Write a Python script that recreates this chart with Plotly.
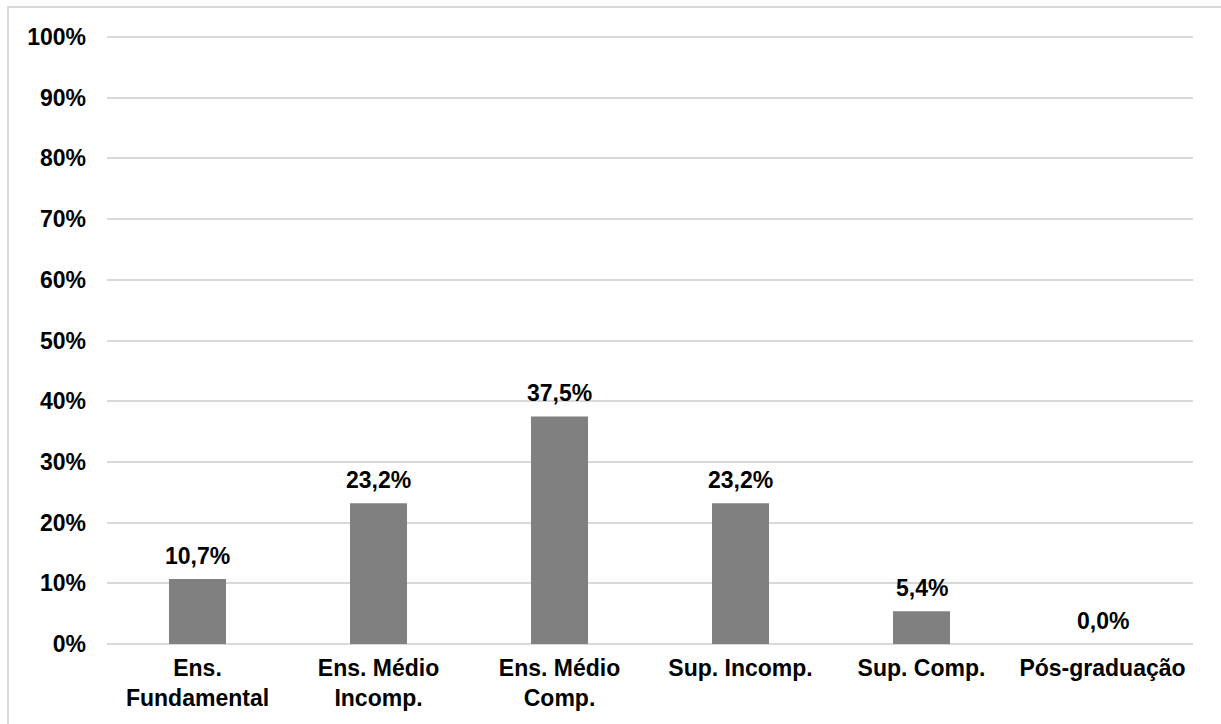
import plotly.graph_objects as go

categories = ["Ens.<br>Fundamental", "Ens. Médio<br>Incomp.", "Ens. Médio<br>Comp.",
              "Sup. Incomp.", "Sup. Comp.", "Pós-graduação"]
values = [10.7, 23.2, 37.5, 23.2, 5.4, 0.0]
labels = [f"{v:.1f}%".replace(".", ",") for v in values]
tick_vals = list(range(0, 101, 10))
tick_text = [f"{t}%" for t in tick_vals]

FONT = "Liberation Sans, Arial, sans-serif"
BOLD = dict(family=FONT, size=23, color="#000000", weight="bold")

fig = go.Figure(go.Bar(
    x=categories, y=values,
    marker=dict(color="#808080", line=dict(width=0)),
    hoverinfo="skip",
))

annotations = [dict(x=c, y=v, text=t, xref="x", yref="y", showarrow=False,
                    yanchor="bottom", yshift=8, font=BOLD)
               for c, v, t in zip(categories, values, labels)]

fig.update_layout(
    width=1221, height=724,
    margin=dict(l=107, r=28, t=35, b=80),
    paper_bgcolor="white", plot_bgcolor="white",
    bargap=0.685,
    showlegend=False,
    font=dict(family=FONT, size=23, color="#000000"),
    xaxis=dict(showgrid=False, showline=False, ticks="", ticklabelstandoff=8,
               tickfont=BOLD),
    yaxis=dict(range=[0, 100.33], tickvals=tick_vals, ticktext=tick_text,
               showgrid=True, gridcolor="#d9d9d9", gridwidth=1.5,
               zeroline=True, zerolinecolor="#d9d9d9", zerolinewidth=1.5,
               showline=False, ticks="", ticklabelstandoff=20,
               tickfont=BOLD),
    annotations=annotations,
    shapes=[dict(type="rect", xref="paper", yref="paper",
                 x0=-0.0912, x1=1.2, y0=-0.4, y1=1.046,
                 line=dict(color="#d9d9d9", width=2), layer="below")],
)

fig.write_html("out.html")
